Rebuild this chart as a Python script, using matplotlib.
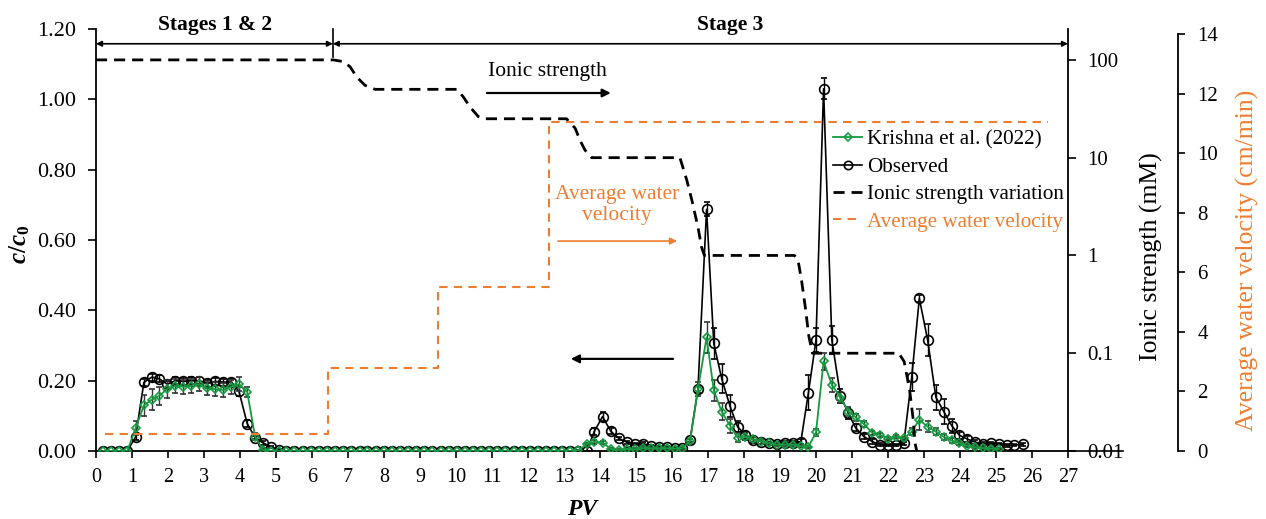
import matplotlib.pyplot as plt
from matplotlib.lines import Line2D
from matplotlib.ticker import NullLocator, FormatStrFormatter

plt.rcParams['font.family'] = ['Liberation Serif', 'DejaVu Serif']
plt.rcParams['mathtext.fontset'] = 'custom'
plt.rcParams['mathtext.it'] = 'Liberation Serif:italic:bold'
plt.rcParams['mathtext.rm'] = 'Liberation Serif:bold'

# Pore volumes of the sampled effluent
pv = [0.20, 0.42, 0.65, 0.87, 1.10, 1.33, 1.55, 1.76, 1.98, 2.20, 2.43, 2.65,
      2.87, 3.09, 3.31, 3.54, 3.76, 3.97, 4.20, 4.42, 4.64, 4.86, 5.07,
      5.29, 5.51, 5.74, 5.96, 6.19, 6.41, 6.64, 6.86, 7.09, 7.32, 7.54, 7.77,
      7.99, 8.22, 8.44, 8.67, 8.89, 9.12, 9.34, 9.57, 9.80, 10.02, 10.25,
      10.47, 10.70, 10.92, 11.15, 11.37, 11.60, 11.82, 12.05, 12.28, 12.50,
      12.73, 12.95, 13.18, 13.40, 13.63,
      13.84, 14.07, 14.30, 14.52, 14.74, 14.97, 15.19, 15.41, 15.63, 15.85,
      16.07, 16.28, 16.50, 16.72, 16.96, 17.16, 17.38, 17.61, 17.82, 18.04,
      18.26, 18.48, 18.70, 18.92, 19.14, 19.36, 19.58, 19.79, 20.00, 20.21,
      20.44, 20.68, 20.90, 21.10, 21.33, 21.56, 21.78, 22.01, 22.22, 22.44,
      22.66, 22.87, 23.10, 23.33, 23.55, 23.77, 23.98, 24.20, 24.42, 24.65,
      24.86, 25.08, 25.30, 25.51, 25.74]

observed = [0, 0, 0, 0, 0.040, 0.195, 0.210, 0.205, 0.190, 0.200, 0.198, 0.200,
            0.200, 0.192, 0.198, 0.196, 0.196, 0.170, 0.078, 0.038, 0.023, 0.012, 0.004,
            0, 0, 0, 0, 0, 0, 0, 0, 0, 0, 0, 0, 0, 0, 0, 0, 0, 0, 0, 0, 0,
            0, 0, 0, 0, 0, 0, 0, 0, 0, 0, 0, 0, 0, 0, 0, 0, 0,
            0.055, 0.098, 0.056, 0.036, 0.025, 0.020, 0.021, 0.015, 0.011, 0.010,
            0.009, 0.009, 0.030, 0.175, 0.687, 0.306, 0.206, 0.128, 0.069, 0.045,
            0.032, 0.027, 0.022, 0.021, 0.023, 0.023, 0.027, 0.166, 0.316, 1.030,
            0.316, 0.157, 0.107, 0.066, 0.041, 0.027, 0.018, 0.017, 0.017, 0.022,
            0.211, 0.434, 0.316, 0.153, 0.112, 0.072, 0.045, 0.034, 0.025, 0.020,
            0.022, 0.020, 0.016, 0.017, 0.019]

observed_err = [0, 0, 0, 0, 0.010, 0.010, 0.010, 0.010, 0.010, 0.010, 0.010, 0.010,
                0.010, 0.010, 0.010, 0.010, 0.010, 0.015, 0.010, 0.005, 0.005, 0.003, 0.002,
                0, 0, 0, 0, 0, 0, 0, 0, 0, 0, 0, 0, 0, 0, 0, 0, 0, 0, 0, 0, 0,
                0, 0, 0, 0, 0, 0, 0, 0, 0, 0, 0, 0, 0, 0, 0, 0, 0,
                0.010, 0.012, 0.008, 0.005, 0.004, 0.004, 0.004, 0.003, 0.003, 0.003,
                0.003, 0.003, 0.005, 0.010, 0.020, 0.045, 0.040, 0.030, 0.015, 0.010,
                0.008, 0.006, 0.005, 0.005, 0.005, 0.005, 0.006, 0.050, 0.035, 0.030,
                0.040, 0.020, 0.015, 0.010, 0.008, 0.006, 0.004, 0.004, 0.004, 0.005,
                0.040, 0.010, 0.045, 0.035, 0.035, 0.020, 0.010, 0.008, 0.006, 0.005,
                0.005, 0.004, 0.004, 0.004, 0.004]

krishna = [0, 0, 0, 0, 0.065, 0.130, 0.146, 0.157, 0.177, 0.185, 0.183, 0.185,
           0.190, 0.178, 0.176, 0.173, 0.183, 0.190, 0.168, 0.040, 0.003, 0, 0,
           0, 0, 0, 0, 0, 0, 0, 0, 0, 0, 0, 0, 0, 0, 0, 0, 0, 0, 0, 0, 0,
           0, 0, 0, 0, 0, 0, 0, 0, 0, 0, 0, 0, 0, 0, 0, 0.002, 0.020,
           0.026, 0.024, 0.006, 0.003, 0.006, 0.005, 0.008, 0.008, 0.008, 0.008,
           0.007, 0.007, 0.028, 0.175, 0.323, 0.173, 0.112, 0.072, 0.038, 0.041,
           0.033, 0.027, 0.022, 0.018, 0.018, 0.018, 0.013, 0.012, 0.053, 0.255,
           0.188, 0.152, 0.112, 0.096, 0.077, 0.052, 0.045, 0.035, 0.041, 0.036,
           0.055, 0.089, 0.069, 0.055, 0.040, 0.030, 0.022, 0.015, 0.010, 0.008,
           0.007, 0.006]

krishna_err = [0, 0, 0, 0, 0.020, 0.030, 0.030, 0.025, 0.025, 0.020, 0.020, 0.020,
               0.020, 0.020, 0.020, 0.020, 0.020, 0.020, 0.015, 0.010, 0.003, 0, 0,
               0, 0, 0, 0, 0, 0, 0, 0, 0, 0, 0, 0, 0, 0, 0, 0, 0, 0, 0, 0, 0,
               0, 0, 0, 0, 0, 0, 0, 0, 0, 0, 0, 0, 0, 0, 0, 0, 0.004,
               0.005, 0.005, 0.003, 0.003, 0.003, 0.003, 0.003, 0.003, 0.003, 0.003,
               0.003, 0.003, 0.005, 0.020, 0.045, 0.030, 0.025, 0.020, 0.012, 0.010,
               0.008, 0.006, 0.005, 0.004, 0.004, 0.004, 0.003, 0.003, 0.010, 0.025,
               0.020, 0.015, 0.012, 0.010, 0.008, 0.006, 0.005, 0.005, 0.005, 0.005,
               0.010, 0.030, 0.015, 0.010, 0.008, 0.006, 0.005, 0.004, 0.003, 0.003,
               0.003, 0.003]

# Ionic strength of the injected solution (mM)
ionic_pv = [0.0, 6.59, 6.87, 7.06, 7.24, 7.47, 7.75, 10.02, 10.20, 10.39, 10.62,
            10.76, 13.07, 13.31, 13.44, 13.58, 13.77, 16.22, 16.41, 16.55, 16.72,
            16.82, 16.90, 19.40, 19.50, 19.60, 19.70, 19.80, 19.90, 22.30, 22.45,
            22.60, 22.70, 22.75, 22.80]
ionic_mM = [100, 100, 96, 85, 67, 55, 50, 50, 42, 33, 26.3,
            25, 25, 20, 15.2, 12, 10, 10, 5.9, 3.7, 1.96,
            1.22, 1.0, 1.0, 0.9, 0.55, 0.3, 0.15, 0.1, 0.1, 0.082,
            0.042, 0.021, 0.012, 0.01]

# Average water velocity (cm/min)
vel_pv = [0.25, 6.44, 9.51, 12.59, 26.45]
vel = [0.57, 2.78, 5.52, 11.05, 11.05]

green = '#169A40'
orange = '#ED7D31'

fig = plt.figure(figsize=(12.66, 5.19), dpi=100)
ax = fig.add_axes([96 / 1266, 68 / 519, 972 / 1266, 422 / 519])
ax2 = ax.twinx()
ax3 = ax.twinx()

# concentration data
ax.errorbar(pv, observed, yerr=observed_err, fmt='-o', color='black', ms=7,
            mfc='none', mew=1.2, lw=1.2, elinewidth=1, capsize=2, zorder=2)
ax.errorbar(pv[:len(krishna)], krishna, yerr=krishna_err, fmt='-D', color=green,
            ms=4.5, mfc='none', mew=1.2, lw=1.3, elinewidth=1, ecolor='#333333',
            capsize=2, zorder=3)

ax.set_xlim(0, 27)
ax.set_ylim(0, 1.2)
ax.set_xticks(range(0, 28))
ax.set_yticks([0, 0.2, 0.4, 0.6, 0.8, 1.0, 1.2])
ax.yaxis.set_major_formatter(FormatStrFormatter('%.2f'))
ax.tick_params(axis='x', labelsize=14.5, direction='out', length=5, width=1.2, pad=7)
ax.tick_params(axis='y', labelsize=16, direction='out', length=6, width=1.2, pad=8)
for s in ['top', 'right']:
    ax.spines[s].set_visible(False)
for s in ['left', 'bottom']:
    ax.spines[s].set_linewidth(1.3)

ax.set_xlabel('PV', fontsize=17, fontweight='bold', fontstyle='italic')
ax.xaxis.set_label_coords(0.5, -0.113)
ax.set_ylabel(r'$c/c_0$', fontsize=18)
ax.yaxis.set_label_coords(-0.066, 0.49)

# ionic strength axis
ax2.plot(ionic_pv, ionic_mM, color='black', lw=2, dashes=(4, 2.5))
ax2.set_yscale('log')
ax2.set_ylim(0.01, 207)
ax2.set_yticks([0.01, 0.1, 1, 10, 100])
ax2.set_yticklabels(['0.01', '0.1', '1', '10', '100'])
ax2.yaxis.set_minor_locator(NullLocator())
ax2.tick_params(axis='y', labelsize=15, direction='out', length=6, width=1.2, pad=8)
for s in ['top', 'left', 'bottom']:
    ax2.spines[s].set_visible(False)
ax2.spines['right'].set_linewidth(1.3)

# velocity axis
ax3.plot(vel_pv, vel, drawstyle='steps-post', color=orange, lw=1.5, dashes=(4, 3))
ax3.set_ylim(0, 14.18)
ax3.set_yticks(range(0, 15, 2))
ax3.spines['right'].set_position(('axes', 1.1132))
ax3.spines['right'].set_bounds(0, 14)
ax3.spines['right'].set_linewidth(1.3)
for s in ['top', 'left', 'bottom']:
    ax3.spines[s].set_visible(False)
ax3.tick_params(axis='y', labelsize=15, direction='out', length=5, width=1.2, pad=9)

fig.text(1151 / 1266, 0.505, 'Ionic strength (mM)', rotation=90, ha='center',
         va='center', fontsize=18.5)
fig.text(1247 / 1266, 0.498, 'Average water velocity (cm/min)', rotation=90,
         ha='center', va='center', fontsize=18.5, color=orange)
fig.add_artist(Line2D([1068 / 1266, 1123 / 1266], [68 / 519, 68 / 519],
                      color='black', lw=1.2))

# stage markers
arrow_kw = dict(arrowstyle='<|-|>', color='black', lw=1.2, mutation_scale=8,
                shrinkA=0, shrinkB=0)
ax.annotate('', xy=(0, 1.158), xytext=(6.58, 1.158), arrowprops=arrow_kw,
            annotation_clip=False)
ax.annotate('', xy=(6.58, 1.158), xytext=(27, 1.158), arrowprops=arrow_kw,
            annotation_clip=False)
ax.plot([6.58, 6.58], [1.12, 1.2], color='black', lw=1.2, clip_on=False)
ax.text(3.3, 1.212, 'Stages 1 & 2', ha='center', va='center', fontsize=15.5,
        fontweight='bold')
ax.text(17.61, 1.212, 'Stage 3', ha='center', va='center', fontsize=15.5,
        fontweight='bold')

# annotations
ax3.text(12.54 / 27, 1.078 / 1.2, 'Ionic strength', transform=ax.transAxes,
         ha='center', va='center', fontsize=15.5)
ax.annotate('', xy=(14.3, 1.018), xytext=(10.86, 1.018),
            arrowprops=dict(arrowstyle='-|>', color='black', lw=1.6,
                            mutation_scale=12, shrinkA=0, shrinkB=0))
ax.text(14.47, 0.70, 'Average water\nvelocity', ha='center', va='center',
        fontsize=15.5, color=orange, linespacing=1.1)
ax.annotate('', xy=(16.14, 0.597), xytext=(12.83, 0.597),
            arrowprops=dict(arrowstyle='-|>', color=orange, lw=1.2,
                            mutation_scale=10, shrinkA=0, shrinkB=0))
ax.annotate('', xy=(13.19, 0.262), xytext=(16.03, 0.262),
            arrowprops=dict(arrowstyle='-|>', color='black', lw=1.6,
                            mutation_scale=12, shrinkA=0, shrinkB=0))

# legend
handles = [
    Line2D([], [], color=green, marker='D', ms=4.5, mfc='none', mew=1.2, lw=1.3),
    Line2D([], [], color='black', marker='o', ms=6, mfc='none', mew=1.2, lw=1.2),
    Line2D([], [], color='black', lw=2, dashes=(4, 2.5)),
    Line2D([], [], color=orange, lw=1.5, dashes=(4, 3)),
]
labels = ['Krishna et al. (2022)', 'Observed', 'Ionic strength variation',
          'Average water velocity']
leg = ax3.legend(handles, labels, loc='upper left', bbox_to_anchor=(0.756, 0.766),
                 bbox_transform=ax.transAxes, frameon=False, fontsize=15.2,
                 handlelength=1.4, handletextpad=0.2, labelspacing=0.36,
                 borderpad=0.1, borderaxespad=0, numpoints=1)
leg.get_texts()[3].set_color(orange)

fig.savefig('out.png', dpi=100)
